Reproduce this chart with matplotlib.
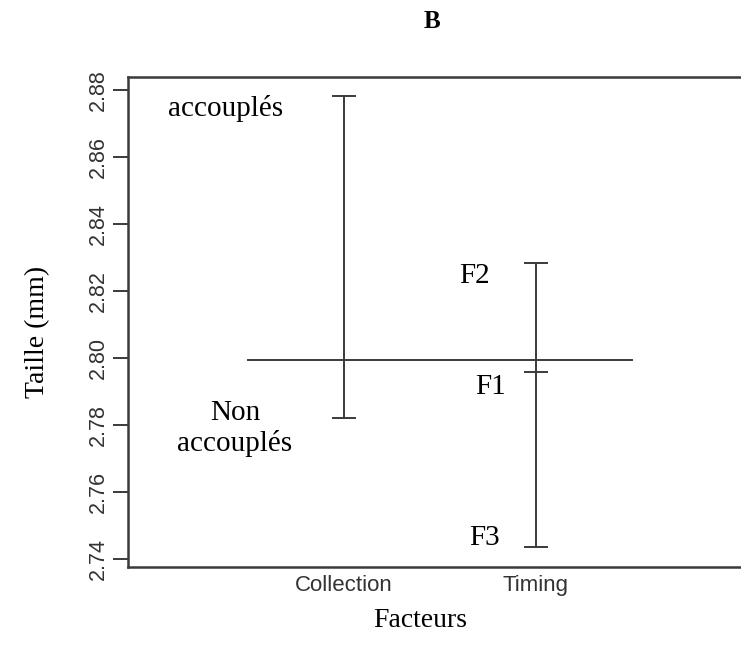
import numpy as np
from matplotlib import pyplot as plt

# factor names and the mean size for each level
factors = ['Collection', 'Timing']
collection_levels = ['accouplés', 'Non\naccouplés']
collection_means = [2.8783, 2.7821]
timing_levels = ['F2', 'F1', 'F3']
timing_means = [2.8283, 2.7959, 2.7435]
grand_mean = 2.7994

y_ticks = [2.74, 2.76, 2.78, 2.80, 2.82, 2.84, 2.86, 2.88]

ink = '#3a3a3a'
serif = ['Liberation Serif', 'DejaVu Serif']
sans = ['Liberation Sans', 'DejaVu Sans']

fig = plt.figure(figsize=(7.41, 6.61), dpi=100)
ax = fig.add_axes([0.1727, 0.1422, 0.8273, 0.7413])

levels = [collection_means, timing_means]
for i, means in enumerate(levels):
    x = i + 1
    ax.plot([x, x], [min(means), max(means)], color=ink, lw=1.4)
    for m in means:
        ax.plot([x - 0.057, x + 0.057], [m, m], color=ink, lw=1.4)

# overall mean across both factors
ax.plot([0.5, 2.5], [grand_mean, grand_mean], color=ink, lw=1.4)

# level labels, placed to the left of each factor line
ax.text(0.385, collection_means[0] - 0.0038, collection_levels[0],
        ha='center', va='center', fontsize=21, family=serif)
ax.text(0.432, collection_means[1] - 0.0031, collection_levels[1],
        ha='center', va='center', fontsize=21, family=serif, linespacing=1.2)
label_dx = [-0.318, -0.234, -0.266]
label_dy = [-0.0037, -0.0045, 0.0029]
for name, m, dx, dy in zip(timing_levels, timing_means, label_dx, label_dy):
    ax.text(2 + dx, m + dy, name, ha='center', va='center',
            fontsize=21, family=serif)

ax.set_xlim(-0.125, 3.07)
ax.set_ylim(2.7376, 2.8839)
ax.set_xticks([1, 2])
ax.set_xticklabels(factors, fontsize=16, family=sans, color='#333333')
ax.tick_params(axis='x', length=0, pad=6)
ax.set_yticks(y_ticks)
ax.set_yticklabels(['%.2f' % t for t in y_ticks], rotation=90, va='center',
                   fontsize=15.5, family=sans, color='#333333')
ax.tick_params(axis='y', length=11, width=1.4, color=ink, pad=3)

for side in ['left', 'top', 'bottom']:
    ax.spines[side].set_linewidth(1.8)
    ax.spines[side].set_color(ink)
ax.spines['right'].set_visible(False)

fig.text(0.583, 0.968, 'B', ha='center', va='center', fontsize=18,
         fontweight='bold', family=serif)
fig.text(0.567, 0.062, 'Facteurs', ha='center', va='center', fontsize=20,
         family=serif)
fig.text(0.051, 0.498, 'Taille (mm)', ha='center', va='center', fontsize=20,
         family=serif, rotation=90)

fig.savefig('out.png', dpi=100)
